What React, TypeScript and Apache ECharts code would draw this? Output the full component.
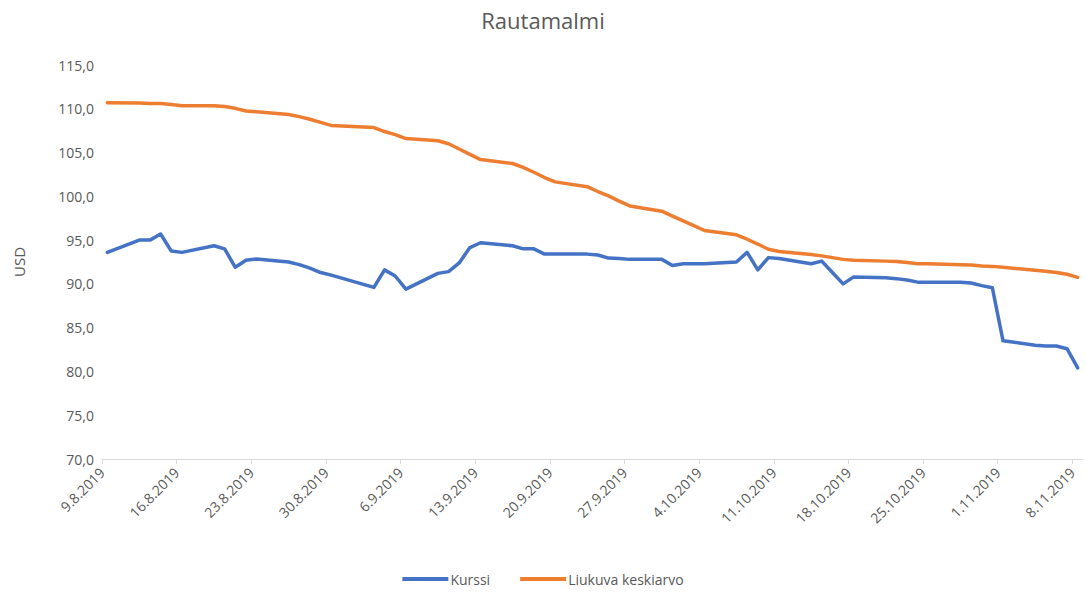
import React, { useEffect, useRef } from "react";
import * as echarts from "echarts";

const dates: string[] = [
  "2019-08-09", "2019-08-12", "2019-08-13", "2019-08-14", "2019-08-15", "2019-08-16",
  "2019-08-19", "2019-08-20", "2019-08-21", "2019-08-22", "2019-08-23",
  "2019-08-26", "2019-08-27", "2019-08-28", "2019-08-29", "2019-08-30",
  "2019-09-03", "2019-09-04", "2019-09-05", "2019-09-06",
  "2019-09-09", "2019-09-10", "2019-09-11", "2019-09-12", "2019-09-13",
  "2019-09-16", "2019-09-17", "2019-09-18", "2019-09-19", "2019-09-20",
  "2019-09-23", "2019-09-24", "2019-09-25", "2019-09-26", "2019-09-27",
  "2019-09-30", "2019-10-01", "2019-10-02", "2019-10-03", "2019-10-04",
  "2019-10-07", "2019-10-08", "2019-10-09", "2019-10-10", "2019-10-11",
  "2019-10-14", "2019-10-15", "2019-10-16", "2019-10-17", "2019-10-18",
  "2019-10-21", "2019-10-22", "2019-10-23", "2019-10-24", "2019-10-25",
  "2019-10-28", "2019-10-29", "2019-10-30", "2019-10-31", "2019-11-01",
  "2019-11-04", "2019-11-05", "2019-11-06", "2019-11-07", "2019-11-08",
];

const kurssi: number[] = [
  93.6, 95.0, 95.0, 95.7, 93.75, 93.6,
  94.35, 94.0, 91.9, 92.7, 92.85,
  92.5, 92.2, 91.8, 91.3, 91.0,
  89.6, 91.6, 90.9, 89.4,
  91.2, 91.4, 92.4, 94.15, 94.7,
  94.35, 94.0, 94.0, 93.4, 93.4,
  93.4, 93.3, 92.95, 92.9, 92.8,
  92.8, 92.1, 92.3, 92.3, 92.3,
  92.5, 93.6, 91.6, 93.0, 92.9,
  92.3, 92.6, 91.3, 90.0, 90.8,
  90.7, 90.6, 90.45, 90.2, 90.2,
  90.2, 90.1, 89.8, 89.55, 83.5,
  83.0, 82.9, 82.9, 82.6, 80.4,
];

const liukuva: number[] = [
  110.7, 110.65, 110.6, 110.6, 110.5, 110.35,
  110.35, 110.25, 110.05, 109.75, 109.65,
  109.35, 109.1, 108.8, 108.45, 108.1,
  107.85, 107.4, 107.05, 106.6,
  106.35, 106.0, 105.4, 104.8, 104.2,
  103.75, 103.3, 102.75, 102.15, 101.65,
  101.1, 100.55, 100.05, 99.45, 98.9,
  98.3, 97.75, 97.2, 96.65, 96.1,
  95.6, 95.1, 94.55, 93.95, 93.7,
  93.35, 93.2, 93.0, 92.8, 92.7,
  92.6, 92.55, 92.45, 92.3, 92.3,
  92.2, 92.15, 92.05, 92.0, 91.9,
  91.55, 91.45, 91.3, 91.1, 90.75,
];

const startDate = "2019-08-09";
const yTicks = { min: 70, max: 115, interval: 5 };
const xRange = { min: 0, max: 92, interval: 7 };

const DAY = 86400000;
const toIdx = (s: string) =>
  (Date.parse(s + "T00:00:00Z") - Date.parse(startDate + "T00:00:00Z")) / DAY;
const fmtDate = (v: number) => {
  const d = new Date(Date.parse(startDate + "T00:00:00Z") + v * DAY);
  return `${d.getUTCDate()}.${d.getUTCMonth() + 1}.${d.getUTCFullYear()}`;
};

const FONT = "'Open Sans', 'Liberation Sans', sans-serif";
const TXT = "#595959";

export default function App() {
  const ref = useRef<HTMLDivElement>(null);
  useEffect(() => {
    document.body.style.margin = "0";
    if (!ref.current) return;
    const chart = echarts.init(ref.current, null, { renderer: "svg" });
    const pts = (vals: number[]) => dates.map((d, i) => [toIdx(d) + 0.5, vals[i]]);
    chart.setOption({
      animation: false,
      textStyle: { fontFamily: FONT },
      title: {
        text: "Rautamalmi",
        left: "center",
        top: 4,
        textStyle: { fontFamily: FONT, fontSize: 22, fontWeight: "normal", color: TXT },
      },
      grid: { left: 102, right: 3, top: 65, bottom: 135, containLabel: false },
      legend: {
        bottom: 3,
        left: "center",
        itemWidth: 46,
        itemHeight: 4,
        itemGap: 30,
        icon: "rect",
        textStyle: { fontFamily: FONT, fontSize: 14, color: TXT, padding: [0, 0, 0, -3] },
        data: ["Kurssi", "Liukuva keskiarvo"],
      },
      xAxis: {
        type: "value",
        min: xRange.min,
        max: xRange.max,
        interval: xRange.interval,
        splitLine: { show: false },
        axisLine: { show: true, lineStyle: { color: "#d9d9d9", width: 1 } },
        axisTick: { show: true, length: 5, lineStyle: { color: "#d9d9d9" } },
        axisLabel: {
          rotate: 45,
          color: TXT,
          fontSize: 14,
          fontFamily: FONT,
          showMaxLabel: false,
          margin: 11,
          formatter: (v: number) => (v % 7 === 0 ? fmtDate(v) : ""),
        },
      },
      yAxis: {
        type: "value",
        min: yTicks.min,
        max: yTicks.max,
        interval: yTicks.interval,
        name: "USD",
        nameLocation: "middle",
        nameGap: 76,
        nameTextStyle: { color: TXT, fontSize: 15, fontFamily: FONT },
        splitLine: { show: false },
        axisLine: { show: false },
        axisTick: { show: false },
        axisLabel: {
          color: TXT,
          fontSize: 14,
          fontFamily: FONT,
          margin: 8,
          formatter: (v: number) => v.toFixed(1).replace(".", ","),
        },
      },
      series: [
        {
          name: "Kurssi",
          type: "line",
          data: pts(kurssi),
          showSymbol: false,
          symbol: "none",
          lineStyle: { color: "#4472C4", width: 3.5, join: "round", cap: "round" },
          itemStyle: { color: "#4472C4" },
        },
        {
          name: "Liukuva keskiarvo",
          type: "line",
          data: pts(liukuva),
          showSymbol: false,
          symbol: "none",
          lineStyle: { color: "#ED7D31", width: 3.5, join: "round", cap: "round" },
          itemStyle: { color: "#ED7D31" },
        },
      ],
    });
    return () => chart.dispose();
  }, []);
  return <div ref={ref} style={{ width: 1086, height: 594 }} />;
}
